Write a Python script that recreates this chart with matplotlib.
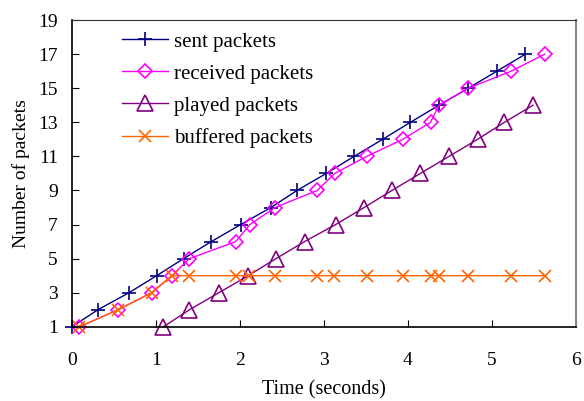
import matplotlib
matplotlib.use("Agg")
import matplotlib.pyplot as plt

plt.rcParams['font.family'] = ['Liberation Serif', 'DejaVu Serif']

sent_t = [0.0, 0.31, 0.68, 1.01, 1.33, 1.66, 2.01, 2.37, 2.68, 3.03, 3.36, 3.70, 4.03, 4.37, 4.72, 5.06, 5.40]
sent_n = [1, 2, 3, 4, 5, 6, 7, 8, 9, 10, 11, 12, 13, 14, 15, 16, 17]

recv_t = [0.09, 0.55, 0.95, 1.19, 1.40, 1.95, 2.12, 2.42, 2.92, 3.13, 3.51, 3.94, 4.27, 4.37, 4.72, 5.23, 5.63]
recv_n = [1, 2, 3, 4, 5, 6, 7, 8, 9, 10, 11, 12, 13, 14, 15, 16, 17]

play_t = [1.09, 1.40, 1.75, 2.10, 2.43, 2.77, 3.14, 3.48, 3.81, 4.15, 4.49, 4.83, 5.15, 5.49]
play_n = [1, 2, 3, 4, 5, 6, 7, 8, 9, 10, 11, 12, 13, 14]

buf_t = [0.09, 0.55, 0.95, 1.19, 1.40, 1.95, 2.11, 2.42, 2.92, 3.12, 3.51, 3.94, 4.27, 4.37, 4.72, 5.23, 5.63]
buf_n = [1, 2, 3, 4, 4, 4, 4, 4, 4, 4, 4, 4, 4, 4, 4, 4, 4]

x_ticks = [0, 1, 2, 3, 4, 5, 6]
y_ticks = [1, 3, 5, 7, 9, 11, 13, 15, 17, 19]

fig = plt.figure(figsize=(5.84, 4.01), dpi=100)
ax = fig.add_axes([0.123, 0.185, 0.863, 0.765])

ax.plot(sent_t, sent_n, color='#000080', lw=1.0, marker='+', ms=10, mew=1.2, label='sent packets')
ax.plot(recv_t, recv_n, color='#FF00FF', lw=1.0, marker='D', ms=7, mfc='none', mew=1.2, label='received packets')
ax.plot(play_t, play_n, color='#800080', lw=1.0, marker='^', ms=11, mfc='none', mew=1.2, label='played packets')
ax.plot(buf_t, buf_n, color='#FF6600', lw=1.0, marker='x', ms=9, mew=1.2, label='buffered packets')

ax.set_xlim(0, 6)
ax.set_ylim(1, 19)
ax.set_xticks(x_ticks)
ax.set_yticks(y_ticks)
ax.tick_params(direction='in', length=5, labelsize=14)
ax.tick_params(axis='x', pad=18)
ax.tick_params(axis='y', pad=10)
ax.set_xlabel('Time (seconds)', fontsize=14.5, labelpad=8)
ax.set_ylabel('Number of packets', fontsize=14, labelpad=6)

for s in ['left', 'bottom']:
    ax.spines[s].set_color('black')
    ax.spines[s].set_linewidth(1.2)
ax.spines['top'].set_color('#333333')
ax.spines['right'].set_color('#888888')
ax.spines['right'].set_linewidth(1.5)

ax.legend(loc='upper left', bbox_to_anchor=(0.099, 0.961), frameon=False, fontsize=15,
          handlelength=2.2, labelspacing=0.6, handletextpad=0.3, borderpad=0, borderaxespad=0)

for line in ax.get_lines():
    line.set_clip_on(False)

fig.savefig('out.png', dpi=100)
